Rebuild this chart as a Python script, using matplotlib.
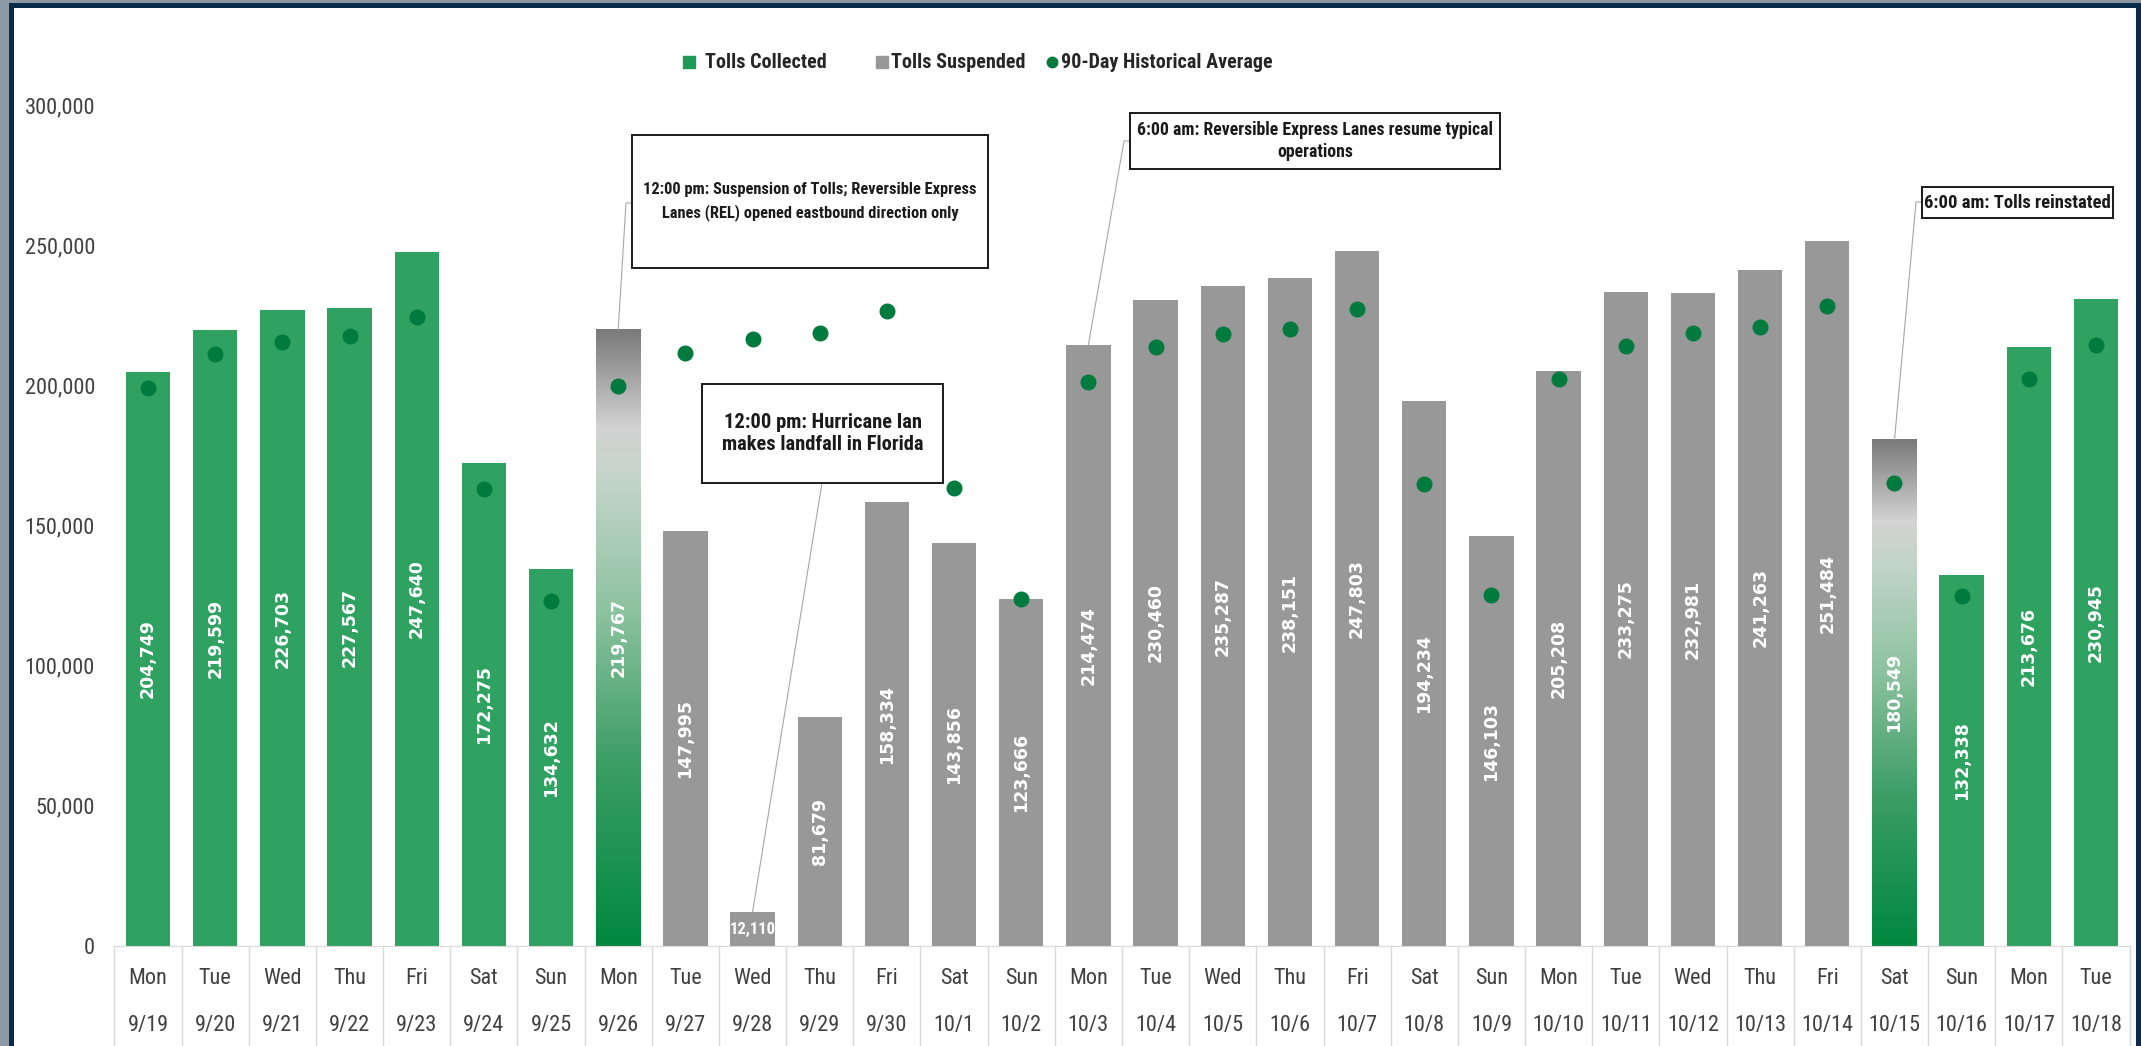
import numpy as np
import matplotlib.pyplot as plt
import matplotlib.transforms as mtransforms
from matplotlib import font_manager
from matplotlib.patches import Rectangle
from matplotlib.lines import Line2D
from matplotlib.colors import LinearSegmentedColormap

days = ['Mon', 'Tue', 'Wed', 'Thu', 'Fri', 'Sat', 'Sun',
        'Mon', 'Tue', 'Wed', 'Thu', 'Fri', 'Sat', 'Sun',
        'Mon', 'Tue', 'Wed', 'Thu', 'Fri', 'Sat', 'Sun',
        'Mon', 'Tue', 'Wed', 'Thu', 'Fri', 'Sat', 'Sun',
        'Mon', 'Tue']
dates = ['9/19', '9/20', '9/21', '9/22', '9/23', '9/24', '9/25',
         '9/26', '9/27', '9/28', '9/29', '9/30', '10/1', '10/2',
         '10/3', '10/4', '10/5', '10/6', '10/7', '10/8', '10/9',
         '10/10', '10/11', '10/12', '10/13', '10/14', '10/15', '10/16',
         '10/17', '10/18']
volumes = [204749, 219599, 226703, 227567, 247640, 172275, 134632,
           219767, 147995, 12110, 81679, 158334, 143856, 123666,
           214474, 230460, 235287, 238151, 247803, 194234, 146103,
           205208, 233275, 232981, 241263, 251484, 180549, 132338,
           213676, 230945]
# c = tolls collected, s = tolls suspended, t = transition day
status = ['c'] * 7 + ['t'] + ['s'] * 18 + ['t'] + ['c'] * 3
hist_avg = [198900, 211200, 215600, 217600, 224500, 162900, 123100,
            199800, 211600, 216400, 218800, 226500, 163500, 123800,
            201300, 213800, 218300, 220000, 227100, 164700, 125100,
            202100, 214000, 218800, 220700, 228300, 165000, 125000,
            202100, 214400]

notes = ["12:00 pm: Suspension of Tolls; Reversible Express\nLanes (REL) opened eastbound direction only",
         "12:00 pm: Hurricane Ian\nmakes landfall in Florida",
         "6:00 am: Reversible Express Lanes resume typical\noperations",
         "6:00 am: Tolls reinstated"]
note_bar = [7, 9, 14, 26]

W, H = 2141, 1046
GREEN = '#2fa262'
GRAY = '#989898'
DOT = '#007a3d'

# the chart uses a condensed face; fall back to a smaller size if none is installed
have = {f.name for f in font_manager.fontManager.ttflist}
if 'Liberation Sans Narrow' in have:
    narrow, k = 'Liberation Sans Narrow', 1.0
elif 'Roboto Condensed' in have:
    narrow, k = 'Roboto Condensed', 1.0
else:
    narrow, k = 'Liberation Sans', 0.86
px = mtransforms.IdentityTransform()

fig = plt.figure(figsize=(W / 100, H / 100), dpi=100, facecolor='#8d99a6')
fig.patches.append(Rectangle((10.5, -20), W - 13.5, H - 5 + 20, transform=px,
                             facecolor='white', edgecolor='#0d2a4a', lw=3.6,
                             zorder=-5))

ax = fig.add_axes([114.4 / W, 100 / H, 2015.2 / W, 841 / H])
ax.set_facecolor('none')

x = np.arange(len(volumes))
vol = np.array(volumes)
st = np.array(status)
bw = 0.66

ax.bar(x[st == 'c'], vol[st == 'c'], width=bw, color=GREEN, zorder=2)
ax.bar(x[st == 's'], vol[st == 's'], width=bw, color=GRAY, zorder=2)

# gradient bars for the days tolls switched
grad = LinearSegmentedColormap.from_list('trans', [
    (0.0, '#00883f'), (0.3, '#3d9e66'), (0.55, '#8fc3a1'),
    (0.76, '#c4d5ca'), (0.84, '#d3d3d3'), (1.0, '#7a7a7a')])
for i in x[st == 't']:
    ax.imshow(np.linspace(0, 1, 256).reshape(-1, 1), cmap=grad, origin='lower',
              extent=[i - bw / 2, i + bw / 2, 0, vol[i]], aspect='auto', zorder=2)

ax.plot(x, hist_avg, 'o', color=DOT, ms=10.5, zorder=4)

for i, v in enumerate(volumes):
    if v > 30000:
        ax.text(i, v / 2, f'{v:,}', rotation=90, ha='center', va='center',
                color='white', fontweight='bold', fontsize=12.5,
                family='DejaVu Sans', zorder=5)
    else:
        ax.text(i, v / 2, f'{v:,}', ha='center', va='center', color='white',
                fontweight='bold', fontsize=12 * k, family=narrow, zorder=5)

ax.set_xlim(-0.5, len(volumes) - 0.5)
ax.set_ylim(0, 300000)
ax.set_yticks(range(0, 300001, 50000))
ax.set_yticklabels([f'{t:,}' for t in range(0, 300001, 50000)], family=narrow)
ax.tick_params(axis='y', length=0, pad=14, labelsize=16 * k, labelcolor='#404040')
ax.set_xticks([])
for s in ['left', 'top', 'right']:
    ax.spines[s].set_visible(False)
ax.spines['bottom'].set_color('#d9d9d9')

# two-level category axis
xt = ax.get_xaxis_transform()
row1 = mtransforms.offset_copy(xt, fig=fig, y=-33, units='dots')
row2 = mtransforms.offset_copy(xt, fig=fig, y=-79, units='dots')
for i in x:
    ax.text(i, 0, days[i], transform=row1, ha='center', va='center',
            fontsize=16 * k, color='#404040', family=narrow)
    ax.text(i, 0, dates[i], transform=row2, ha='center', va='center',
            fontsize=16 * k, color='#404040', family=narrow)
for kk in np.arange(-0.5, len(volumes)):
    ax.plot([kk, kk], [0, -0.13], transform=xt, color='#d9d9d9', lw=1, clip_on=False)

# legend: marker, gap, label, then a gap to the next entry
fig.canvas.draw()
r = fig.canvas.get_renderer()
leg = [('Tolls Collected', 's', '#1f9a56', 9, 11, 50),
       ('Tolls Suspended', 's', GRAY, 9, 4, 22),
       ('90-Day Historical Average', 'o', DOT, 7.5, 4, 0)]
cur = 684
for label, mk, col, ms, gap, after in leg:
    fig.add_artist(Line2D([cur + 5], [H - 62], marker=mk, color=col, ms=ms, ls='',
                          transform=px))
    t = fig.text((cur + 10 + gap) / W, (H - 62) / H, label, ha='left', va='center',
                 fontsize=14.5 * k, fontweight='bold', family=narrow, color='#262626')
    cur = t.get_window_extent(r).x1 + after

# callout boxes (pixel boxes: left, top, right, bottom from top-left)
boxes = [(632, 135, 988, 268), (702, 384, 943, 483),
         (1130, 113, 1500, 169), (1922, 187, 2113, 218)]
note_size = [11.8, 14.8, 12.8, 13.4]
note_ls = [1.55, 1.2, 1.35, 1.2]
anchors = [('left', 203), ('bottom', 822), ('left', 141), ('left', 202)]
for j, (text, bi, (l, t, rr, b), (side, a)) in enumerate(zip(notes, note_bar, boxes, anchors)):
    fig.patches.append(Rectangle((l, H - b), rr - l, b - t, transform=px,
                                 facecolor='white', edgecolor='#1a1a1a', lw=1.4, zorder=6))
    fig.text((l + rr) / 2 / W, (H - (t + b) / 2) / H, text, ha='center', va='center',
             fontsize=note_size[j] * k, fontweight='bold', family=narrow, color='#1a1a1a',
             linespacing=note_ls[j], zorder=7)
    bx, by = ax.transData.transform((bi, volumes[bi]))
    if side == 'left':
        xs, ys = [l, l - 6, bx], [H - a, H - a, by]
    else:
        xs, ys = [a, bx], [H - b, by]
    fig.add_artist(Line2D(xs, ys, color='#a6a6a6', lw=0.8, transform=px, zorder=5))

fig.savefig('out.png', dpi=100, facecolor=fig.get_facecolor())
